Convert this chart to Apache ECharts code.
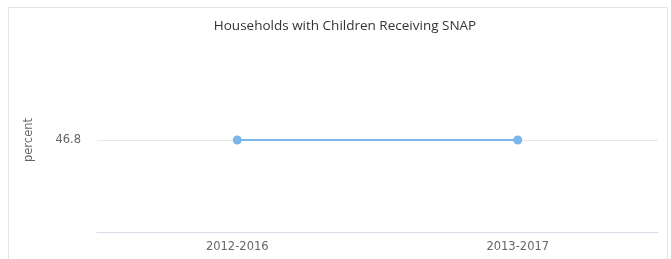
<!DOCTYPE html>
<html>
<head>
<meta charset="utf-8">
<script src="https://cdn.jsdelivr.net/npm/echarts@6/dist/echarts.min.js"></script>
<style>
  html, body { margin: 0; padding: 0; background: #fff; }
  #chart { width: 671px; height: 259px; }
</style>
</head>
<body>
<div id="chart"></div>
<script>
// data
const categories = ['2012-2016', '2013-2017'];
const percentValues = [46.8, 46.8];
const shownTicks = [46.8];

const labelFont = 'DejaVu Sans';
const chart = echarts.init(document.getElementById('chart'));

chart.setOption({
  animation: false,
  title: {
    text: 'Households with Children Receiving SNAP',
    left: 340,
    top: 14,
    textAlign: 'center',
    textStyle: { fontSize: 13.5, fontWeight: 'normal', color: '#333', fontFamily: 'Open Sans' }
  },
  graphic: [{
    type: 'rect',
    shape: { x: 8.5, y: 7.5, width: 659, height: 270 },
    style: { fill: 'none', stroke: '#e4e4e4', lineWidth: 1 },
    silent: true
  }],
  grid: { left: 97, right: 13, top: 48, bottom: 27 },
  xAxis: {
    type: 'category',
    data: categories,
    boundaryGap: true,
    axisLine: { lineStyle: { color: '#d8dce6' } },
    axisTick: { show: false },
    axisLabel: { color: '#666', fontSize: 11.5, margin: 9, fontFamily: labelFont }
  },
  yAxis: {
    type: 'value',
    min: 45.8,
    max: 47.8,
    interval: 1,
    name: 'percent',
    nameLocation: 'middle',
    nameGap: 62,
    nameTextStyle: { color: '#666', fontSize: 11.5, fontFamily: labelFont },
    axisLine: { show: false },
    axisTick: { show: false },
    splitLine: { show: false },
    axisLabel: {
      color: '#666',
      fontSize: 11.5,
      margin: 16,
      fontFamily: labelFont,
      formatter: function (v) {
        return shownTicks.some(t => Math.abs(t - v) < 1e-6) ? v.toFixed(1) : '';
      }
    }
  },
  series: [{
    // grid line at the shown tick, drawn under the data line
    type: 'line',
    data: [],
    silent: true,
    z: 1,
    markLine: {
      silent: true,
      symbol: 'none',
      label: { show: false },
      lineStyle: { color: '#e6e6e6', type: 'solid', width: 1 },
      data: shownTicks.map(t => ({ yAxis: t }))
    }
  }, {
    type: 'line',
    data: percentValues,
    symbol: 'circle',
    symbolSize: 9,
    lineStyle: { color: '#7cb5ec', width: 2 },
    itemStyle: { color: '#7cb5ec' },
    z: 5
  }]
});
</script>
</body>
</html>
